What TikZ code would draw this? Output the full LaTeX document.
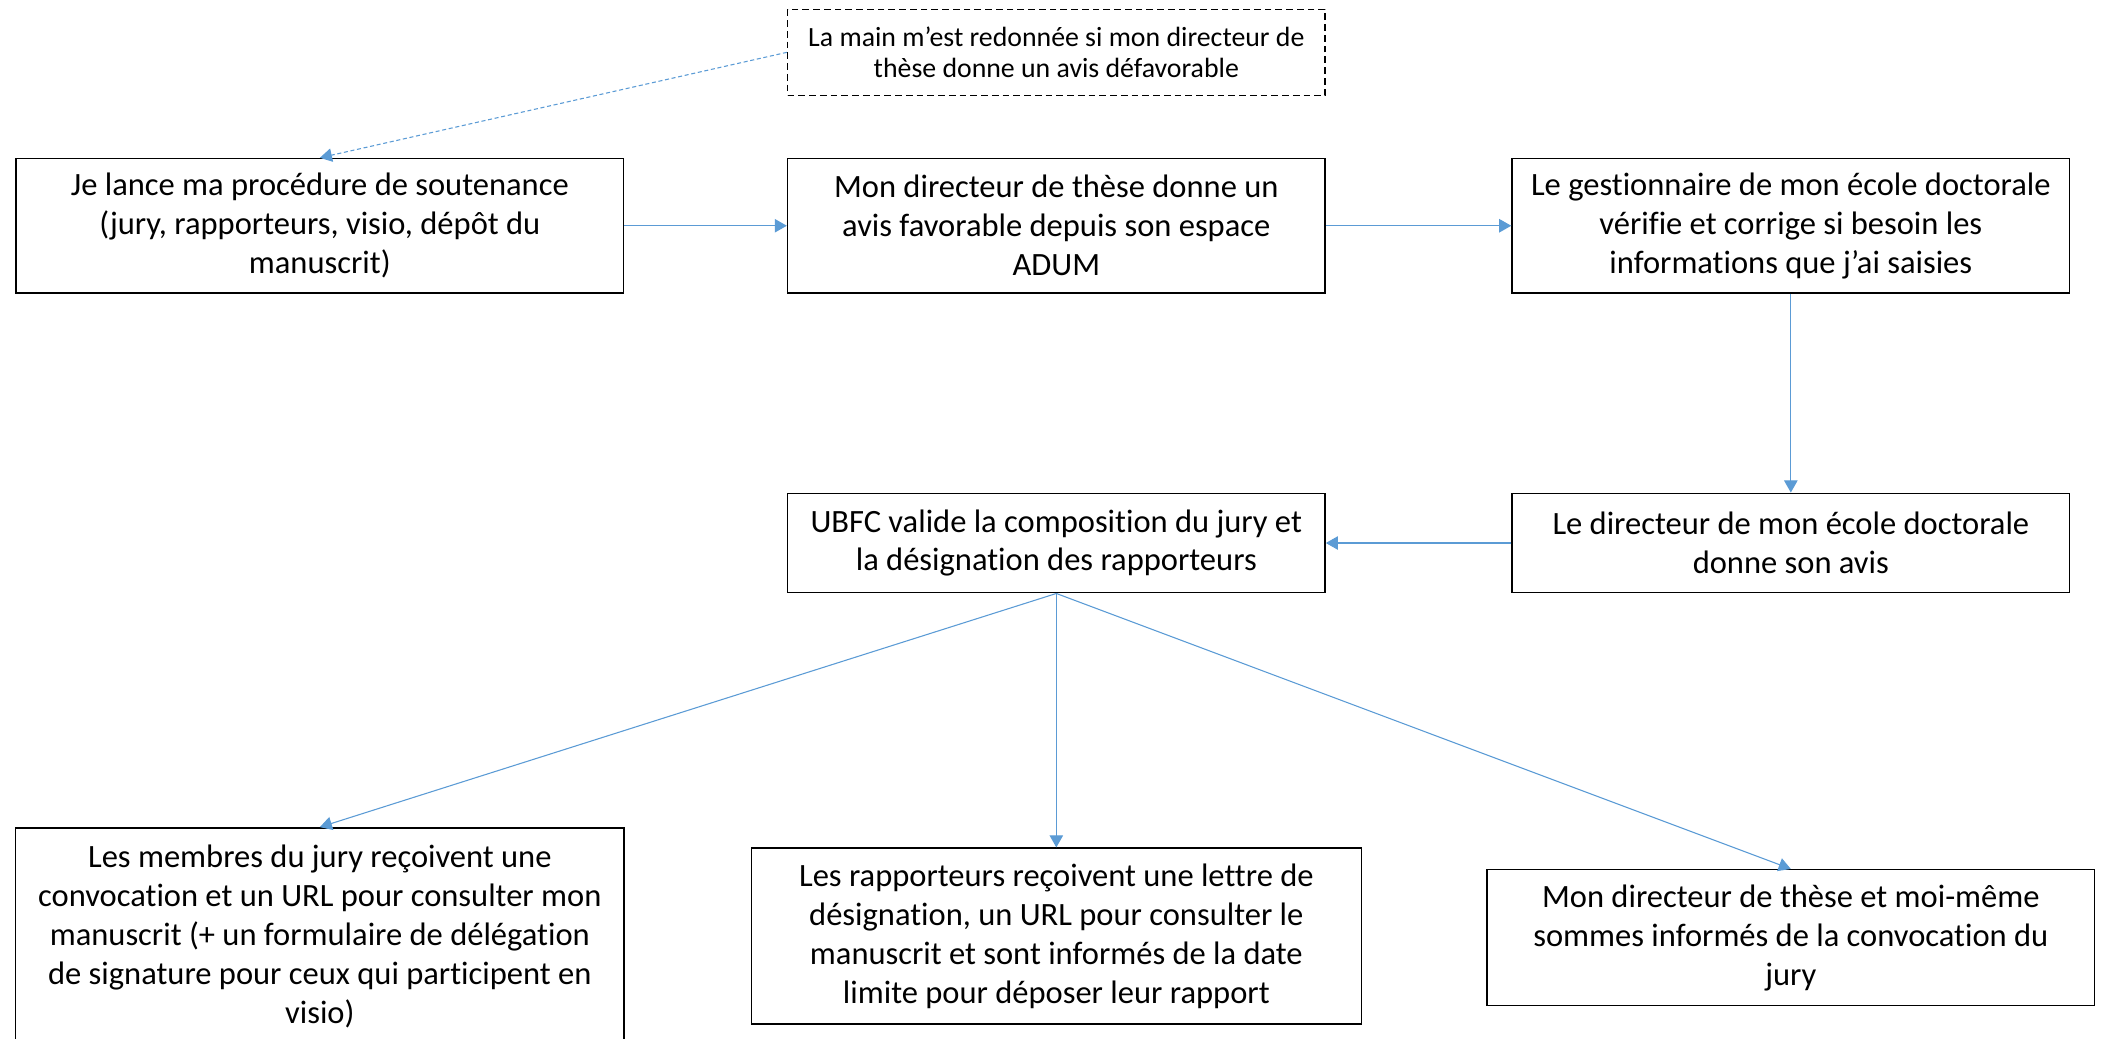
\documentclass[tikz,border=0pt]{standalone}
\usepackage{fontspec}
\setmainfont{Carlito}[Ligatures=NoCommon]
\usepackage{tikz}
\usetikzlibrary{arrows.meta, positioning}

\begin{document}
\begin{tikzpicture}[x=1pt, y=-1pt,
    box/.style={rectangle, draw, line width=1.1pt, inner sep=0pt, align=center, font=\fontsize{24.2}{29}\selectfont},
    notebox/.style={rectangle, draw, dash pattern=on 5pt off 3pt, line width=1pt, inner sep=0pt, align=center, font=\fontsize{20.7}{23}\selectfont},
    arrow/.style={-{Triangle[length=9pt, width=10pt]}, line width=0.8pt, draw=arrowblue},
    dasharrow/.style={arrow, dash pattern=on 3pt off 2pt}]

    % Define colors
    \definecolor{arrowblue}{RGB}{91,155,213}

    \clip (0,0) rectangle (1568,773);
    \useasboundingbox (0,0) rectangle (1568,773);

    % Nodes
    \node[box, minimum width=452pt, minimum height=100pt] (start) at (238,168) {Je lance ma procédure de soutenance\\(jury, rapporteurs, visio, dépôt du\\manuscrit)};
    \node[box, minimum width=400pt, minimum height=100pt, right=121pt of start] (favorable) {Mon directeur de thèse donne un\\avis favorable depuis son espace\\ADUM};
    \node[box, minimum width=415pt, minimum height=100pt, right=138pt of favorable] (gestion) {Le gestionnaire de mon école doctorale\\vérifie et corrige si besoin les\\informations que j’ai saisies};
    \node[notebox, minimum width=400pt, minimum height=64pt, above=46pt of favorable] (note) {La main m’est redonnée si mon directeur de\\thèse donne un avis défavorable};
    \node[box, minimum width=415pt, minimum height=74pt, below=148pt of gestion] (edavis) {Le directeur de mon école doctorale\\donne son avis};
    \node[box, minimum width=400pt, minimum height=74pt, left=138pt of edavis] (ubfc) {UBFC valide la composition du jury et\\la désignation des rapporteurs};
    \node[box, minimum width=453pt, minimum height=162pt, below=397pt of start] (membres) {Les membres du jury reçoivent une\\convocation et un URL pour consulter mon\\manuscrit (+ un formulaire de délégation\\de signature pour ceux qui participent en\\visio)};
    \node[box, minimum width=454pt, minimum height=131pt, below=189pt of ubfc] (rapporteurs) {Les rapporteurs reçoivent une lettre de\\désignation, un URL pour consulter le\\manuscrit et sont informés de la date\\limite pour déposer leur rapport};
    \node[box, minimum width=452pt, minimum height=101pt, below=205pt of edavis] (informes) {Mon directeur de thèse et moi-même\\sommes informés de la convocation du\\jury};

    % Arrows
    \draw[dasharrow] (note.west) -- (start.north);
    \draw[arrow] (start) -- (favorable);
    \draw[arrow] (favorable) -- (gestion);
    \draw[arrow] (gestion) -- (edavis);
    \draw[arrow] (edavis) -- (ubfc);
    \draw[arrow] (ubfc.south) -- (membres.north);
    \draw[arrow] (ubfc.south) -- (rapporteurs.north);
    \draw[arrow] (ubfc.south) -- (informes.north);

\end{tikzpicture}
\end{document}
